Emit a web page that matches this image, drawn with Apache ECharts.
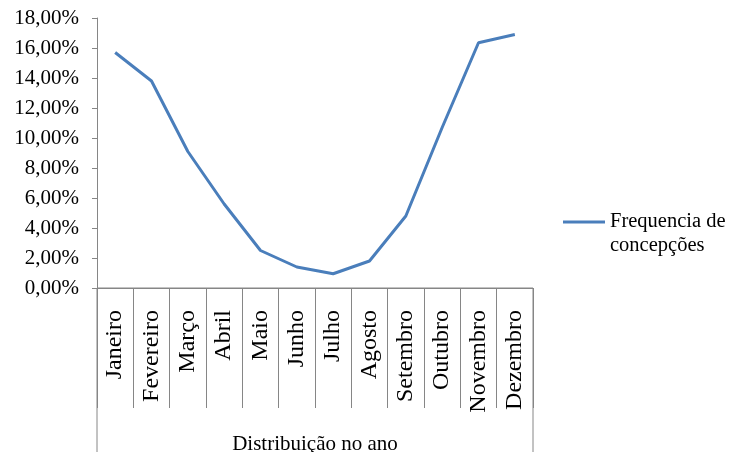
<!DOCTYPE html>
<html lang="pt">
<head>
  <meta charset="UTF-8">
  <script src="https://cdn.jsdelivr.net/npm/echarts@6.0.0/dist/echarts.min.js"></script>
  <title>Frequencia de concepções</title>
  <style>
    html, body { margin: 0; padding: 0; background: #fff; }
  </style>
</head>
<body>
<div id="main" style="width: 730px;height:452px;"></div>
<script>
  // dados
  var meses = ['Janeiro', 'Fevereiro', 'Março', 'Abril', 'Maio', 'Junho',
               'Julho', 'Agosto', 'Setembro', 'Outubro', 'Novembro', 'Dezembro'];
  var frequencia = [15.7, 13.8, 9.1, 5.6, 2.5, 1.4, 0.95, 1.8, 4.8, 10.7, 16.35, 16.9];
  var serieNome = 'Frequencia de concepções';
  var eixoNome = 'Distribuição no ano';

  var fonte = '"Liberation Serif", "Times New Roman", serif';
  var cinza = '#868686';

  var myChart = echarts.init(document.getElementById('main'), null, { renderer: 'canvas' });
  var option = {
    backgroundColor: '#fff',
    textStyle: { fontFamily: fonte, color: '#000' },
    animation: false,
    grid: [
      { left: 97, top: 18, width: 436, height: 270, outerBoundsMode: 'none', containLabel: false },
      // caixa por baixo do eixo (linhas laterais)
      { left: 97, top: 288, width: 436, bottom: -3, show: true, outerBoundsMode: 'none',
        borderColor: cinza, borderWidth: 1, backgroundColor: 'transparent' }
    ],
    legend: {
      left: 563,
      top: 186,
      padding: 0,
      icon: 'rect',
      itemWidth: 42,
      itemHeight: 3,
      data: [serieNome],
      // linha vazia em cima para alinhar o traço com a primeira linha
      formatter: function () { return ' \nFrequencia de\nconcepções'; },
      textStyle: { fontFamily: fonte, fontSize: 20.5, color: '#000', lineHeight: 24 }
    },
    xAxis: [
      {
        type: 'category',
        data: meses,
        boundaryGap: true,
        name: eixoNome,
        nameLocation: 'middle',
        nameGap: 146,
        nameTextStyle: { fontFamily: fonte, fontSize: 21, color: '#000' },
        axisLine: { show: true, lineStyle: { color: cinza, width: 1 } },
        axisTick: { show: true, alignWithLabel: false, length: 120, lineStyle: { color: cinza, width: 1 } },
        axisLabel: {
          rotate: 90,
          interval: 0,
          margin: 22,
          fontFamily: fonte,
          fontSize: 24,
          color: '#000'
        }
      },
      { type: 'category', gridIndex: 1, data: meses, show: false }
    ],
    yAxis: [
      {
        type: 'value',
        min: 0,
        max: 18,
        interval: 2,
        splitLine: { show: false },
        axisLine: { show: true, lineStyle: { color: cinza, width: 1 } },
        axisTick: { show: true, length: 5, lineStyle: { color: cinza } },
        axisLabel: {
          margin: 18,
          fontFamily: fonte,
          fontSize: 21,
          color: '#000',
          formatter: function (v) { return v.toFixed(2).replace('.', ',') + '%'; }
        }
      },
      { type: 'value', gridIndex: 1, show: false }
    ],
    series: [
      {
        name: serieNome,
        type: 'line',
        data: frequencia,
        symbol: 'none',
        smooth: false,
        itemStyle: { color: '#4a7ebb' },
        lineStyle: { color: '#4a7ebb', width: 3 }
      }
    ]
  };
  myChart.setOption(option);
</script>
</body>
</html>
